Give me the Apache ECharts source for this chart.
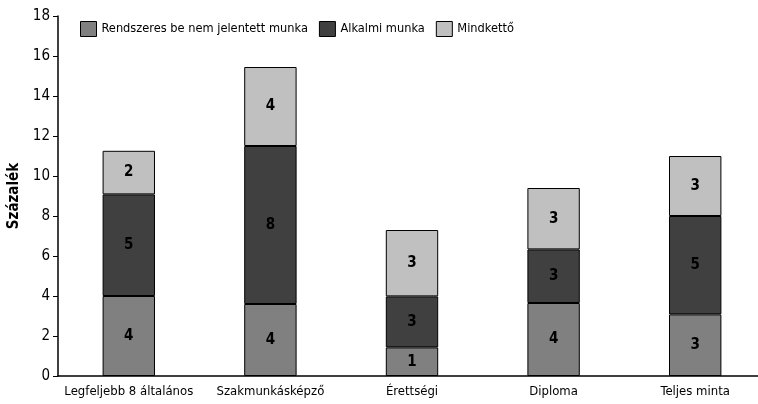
<!DOCTYPE html>
<html><head><meta charset="utf-8">
<script src="https://cdn.jsdelivr.net/npm/echarts@6/dist/echarts.min.js"></script>
<style>html,body{margin:0;padding:0;background:#fff}#c{width:758px;height:404px}</style>
</head><body><div id="c"></div>
<script>
const categories = ['Legfeljebb 8 általános', 'Szakmunkásképző', 'Érettségi', 'Diploma', 'Teljes minta'];
const seriesNames = ['Rendszeres be nem jelentett munka', 'Alkalmi munka', 'Mindkettő'];
const rendszeres = [4.0, 3.6, 1.43, 3.65, 3.08];
const alkalmi = [5.08, 7.9, 2.55, 2.68, 4.92];
const mindketto = [2.18, 3.95, 3.32, 3.07, 3.0];
const colors = ['#808080', '#404040', '#c0c0c0'];
const FONT = '"Liberation Sans Narrow", "DejaVu Sans Condensed", sans-serif';

const chart = echarts.init(document.getElementById('c'));
const mk = (name, data, color) => ({
  name, type: 'bar', stack: 's', data, barWidth: '37%',
  itemStyle: { color, borderColor: '#000', borderWidth: 1 },
  label: { show: true, position: 'inside', color: '#000', fontWeight: 'bold', fontFamily: FONT, fontSize: 15,
    formatter: p => Math.round(p.value) }
});
chart.setOption({
  animation: false,
  textStyle: { fontFamily: FONT },
  grid: { left: 58, width: 708, top: 16, bottom: 28, outerBoundsMode: 'none', containLabel: false },
  legend: {
    top: 16, left: 75, itemWidth: 16, itemHeight: 15, itemGap: 11, icon: 'rect',
    textStyle: { fontFamily: FONT, fontSize: 12.7, color: '#000' },
    data: seriesNames.map((n, i) => ({ name: n, itemStyle: { color: colors[i], borderColor: '#000', borderWidth: 1 } }))
  },
  xAxis: {
    type: 'category', data: categories,
    axisLine: { lineStyle: { color: '#000', width: 1.5 } },
    axisTick: { show: false },
    axisLabel: { color: '#000', fontSize: 13, fontFamily: FONT, margin: 9, interval: 0 }
  },
  yAxis: {
    type: 'value', min: 0, max: 18, interval: 2,
    name: 'Százalék', nameLocation: 'middle', nameGap: 35, nameRotate: 90,
    nameTextStyle: { color: '#000', fontSize: 15, fontWeight: 'bold', fontFamily: FONT },
    axisLine: { show: true, lineStyle: { color: '#000', width: 1.5 } },
    axisTick: { show: true, length: 5, lineStyle: { color: '#000' } },
    splitLine: { show: false },
    axisLabel: { color: '#000', fontSize: 15, fontFamily: FONT, margin: 8 }
  },
  series: [mk(seriesNames[0], rendszeres, colors[0]), mk(seriesNames[1], alkalmi, colors[1]), mk(seriesNames[2], mindketto, colors[2])]
});
</script></body></html>
